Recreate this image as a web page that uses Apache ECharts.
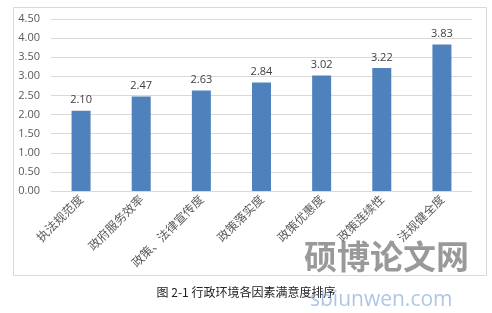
<!DOCTYPE html>
<html><head><meta charset="utf-8">
<script src="https://cdn.jsdelivr.net/npm/echarts@6/dist/echarts.min.js"></script>
<style>html,body{margin:0;padding:0;background:#fff}#c{width:492px;height:313px}</style>
</head><body><div id="c"></div>
<script>
var categories = ['执法规范度','政府服务效率','政策、法律宣传度','政策落实度','政策优惠度','政策连续性','法规健全度'];
var values = [2.10, 2.47, 2.63, 2.84, 3.02, 3.22, 3.83];
var caption = '图 2-1 行政环境各因素满意度排序';
var watermark = '硕博论文网';
var watermarkUrl = 'sbiunwen.com';

var chart = echarts.init(document.getElementById('c'), null, {renderer:'canvas'});
chart.setOption({
  animation:false,
  backgroundColor:'#fff',
  grid:{left:51,right:20,top:19,bottom:122,containLabel:false},
  xAxis:{type:'category',data:categories,
    axisLine:{show:true,lineStyle:{color:'#d9d9d9'}},
    axisTick:{show:false},
    axisLabel:{rotate:45,interval:0,color:'#595959',fontSize:12,margin:6,
      fontFamily:'"Noto Sans CJK SC", sans-serif'}},
  yAxis:{type:'value',min:0,max:4.5,interval:0.5,
    axisLine:{show:false},axisTick:{show:false},
    splitLine:{lineStyle:{color:'#d9d9d9'}},
    axisLabel:{formatter:function(v){return v.toFixed(2);},color:'#595959',fontSize:11,margin:11,
      fontFamily:'"Open Sans", sans-serif'}},
  series:[{type:'bar',data:values,barWidth:19,
    itemStyle:{color:'#4f81bd'},
    label:{show:true,position:'top',distance:5,color:'#404040',fontSize:11,
      fontFamily:'"Open Sans", sans-serif',formatter:function(p){return p.value.toFixed(2);}}}],
  graphic:[
    {type:'rect',left:11,top:5,shape:{width:473,height:268},style:{fill:'none',stroke:'#d9d9d9',lineWidth:1},z:-1},
    {type:'text',left:'center',top:286,style:{text:caption,fill:'#222',fontSize:12,
      fontFamily:'"Noto Sans CJK SC", serif'}},
    {type:'text',left:304,top:240,style:{text:watermark,fill:'rgba(110,110,110,0.7)',fontSize:33,fontWeight:'bold',
      fontFamily:'"Noto Sans CJK SC", sans-serif'},z:10},
    {type:'text',left:310,top:290,style:{text:watermarkUrl,fill:'rgba(120,160,210,0.6)',fontSize:21,
      fontFamily:'"Open Sans", sans-serif'},z:10}
  ]
});
</script></body></html>
